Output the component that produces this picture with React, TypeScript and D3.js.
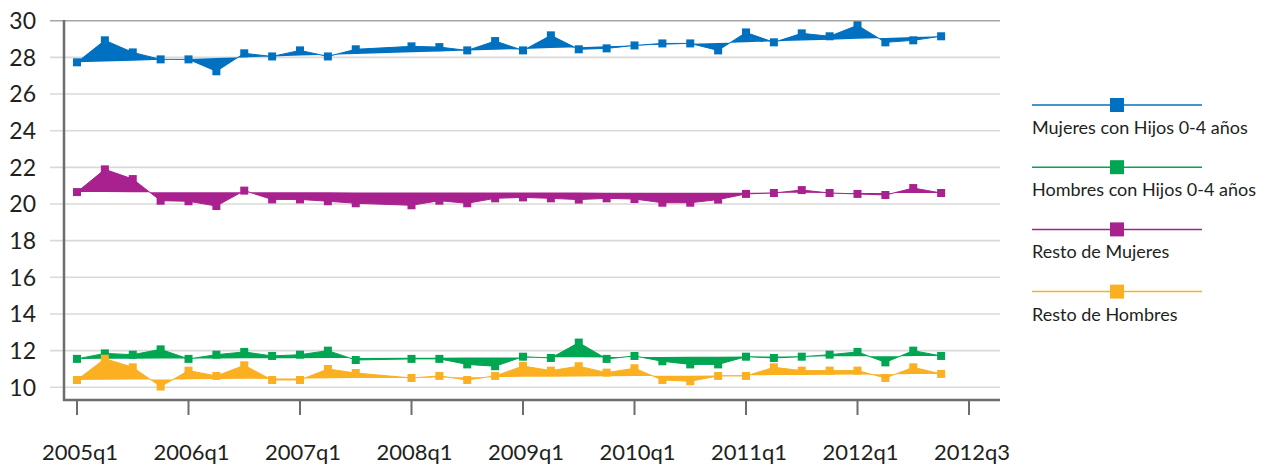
import * as d3 from "d3";

const width = 1273;
const height = 466;

// quarter slots 0..32, slot 11 has no data
const tickSlots = [0, 4, 8, 12, 16, 20, 24, 28, 32];
const tickLabels = ["2005q1", "2006q1", "2007q1", "2008q1", "2009q1", "2010q1", "2011q1", "2012q1", "2012q3"];
const yTicks = [10, 12, 14, 16, 18, 20, 22, 24, 26, 28, 30];

const mujeresHijos = [27.73, 28.93, 28.27, 27.89, 27.89, 27.24, 28.22, 28.05, 28.38, 28.05, 28.44, null, 28.6, 28.56, 28.38, 28.89, 28.38, 29.2, 28.44, 28.49, 28.65, 28.76, 28.76, 28.38, 29.36, 28.82, 29.31, 29.15, 29.75, 28.82, 28.93, 29.15];
const hombresHijos = [11.55, 11.85, 11.78, 12.07, 11.55, 11.78, 11.93, 11.71, 11.78, 12.0, 11.49, null, 11.55, 11.55, 11.25, 11.15, 11.67, 11.6, 12.44, 11.55, 11.71, 11.42, 11.25, 11.25, 11.67, 11.6, 11.67, 11.78, 11.93, 11.36, 12.0, 11.71];
const restoMujeres = [20.65, 21.89, 21.36, 20.18, 20.15, 19.89, 20.73, 20.25, 20.25, 20.15, 20.04, null, 19.93, 20.18, 20.04, 20.31, 20.36, 20.31, 20.24, 20.31, 20.27, 20.07, 20.07, 20.24, 20.55, 20.6, 20.76, 20.6, 20.55, 20.49, 20.87, 20.6];
const restoHombres = [10.4, 11.56, 11.09, 10.04, 10.91, 10.62, 11.2, 10.4, 10.4, 11.0, 10.78, null, 10.51, 10.62, 10.4, 10.62, 11.16, 10.91, 11.15, 10.8, 11.04, 10.4, 10.33, 10.62, 10.62, 11.09, 10.91, 10.91, 10.91, 10.51, 11.09, 10.73];

const seriesNames = ["Mujeres con Hijos 0-4 años", "Hombres con Hijos 0-4 años", "Resto de Mujeres", "Resto de Hombres"];
const seriesColors = ["#0070c0", "#00a651", "#a9218e", "#fbb021"];
const seriesValues = [mujeresHijos, hombresHijos, restoMujeres, restoHombres];

const font = "Lato, 'Open Sans', sans-serif";
const textColor = "#231f20";

const x = d3.scaleLinear().domain([0, 32]).range([77, 969]);
const y = d3.scaleLinear().domain([10, 30]).range([387.3, 20.7]);

const plotLeft = 64;
const plotRight = 1000;
const axisY = 400;

export default function App() {
  const series = seriesValues.map((vals, k) => {
    const pts = vals
      .map((v, i) => ({ i, v }))
      .filter((d) => d.v !== null) as { i: number; v: number }[];
    // fill between each series and the straight line joining its first and last value
    const first = pts[0];
    const last = pts[pts.length - 1];
    const base = d3.scaleLinear().domain([first.i, last.i]).range([first.v, last.v]);
    const area = d3
      .area<{ i: number; v: number }>()
      .x((d) => x(d.i))
      .y0((d) => y(base(d.i)))
      .y1((d) => y(d.v));
    const line = d3
      .line<{ i: number; v: number }>()
      .x((d) => x(d.i))
      .y((d) => y(d.v));
    return { pts, area: area(pts), line: line(pts), color: seriesColors[k], name: seriesNames[k] };
  });

  return (
    <svg width={width} height={height} style={{ position: "absolute", left: 0, top: 0, background: "#fff" }}>
      {yTicks.map((t) => (
        <g key={t}>
          <line
            x1={50}
            x2={plotRight}
            y1={y(t)}
            y2={y(t)}
            stroke={t === 30 ? "#a6a6a6" : "#d9d9d9"}
            strokeWidth={1.6}
          />
          <text
            x={36}
            y={y(t)}
            dy="0.36em"
            textAnchor="end"
            fontFamily={font}
            fontSize={23}
            fill={textColor}
          >
            {t}
          </text>
        </g>
      ))}

      {series.map((s) => (
        <g key={s.name}>
          <path d={s.area || ""} fill={s.color} stroke="none" />
          <path d={s.line || ""} fill="none" stroke={s.color} strokeWidth={1} />
          {s.pts.map((d) => (
            <rect key={d.i} x={x(d.i) - 4} y={y(d.v) - 4} width={8} height={8} fill={s.color} />
          ))}
        </g>
      ))}

      <line x1={plotLeft} x2={plotLeft} y1={20} y2={axisY + 1} stroke="#6d6d6d" strokeWidth={2.5} />
      <line x1={plotLeft - 1} x2={plotRight} y1={axisY} y2={axisY} stroke="#6d6d6d" strokeWidth={2.5} />
      {tickSlots.map((t, k) => (
        <g key={t}>
          <line x1={x(t)} x2={x(t)} y1={axisY} y2={415} stroke="#6d6d6d" strokeWidth={2} />
          <text
            x={x(t) + 3}
            y={460}
            textAnchor="middle"
            fontFamily={font}
            fontSize={22}
            fill={textColor}
          >
            {tickLabels[k]}
          </text>
        </g>
      ))}

      {series.map((s, k) => {
        const ly = 105 + k * 62.2;
        return (
          <g key={s.name}>
            <line x1={1032} x2={1202} y1={ly} y2={ly} stroke={s.color} strokeWidth={1.5} />
            <rect x={1110} y={ly - 7} width={14} height={14} fill={s.color} />
            <text x={1032} y={ly + 29} fontFamily={font} fontSize={18} fill={textColor}>
              {s.name}
            </text>
          </g>
        );
      })}
    </svg>
  );
}
